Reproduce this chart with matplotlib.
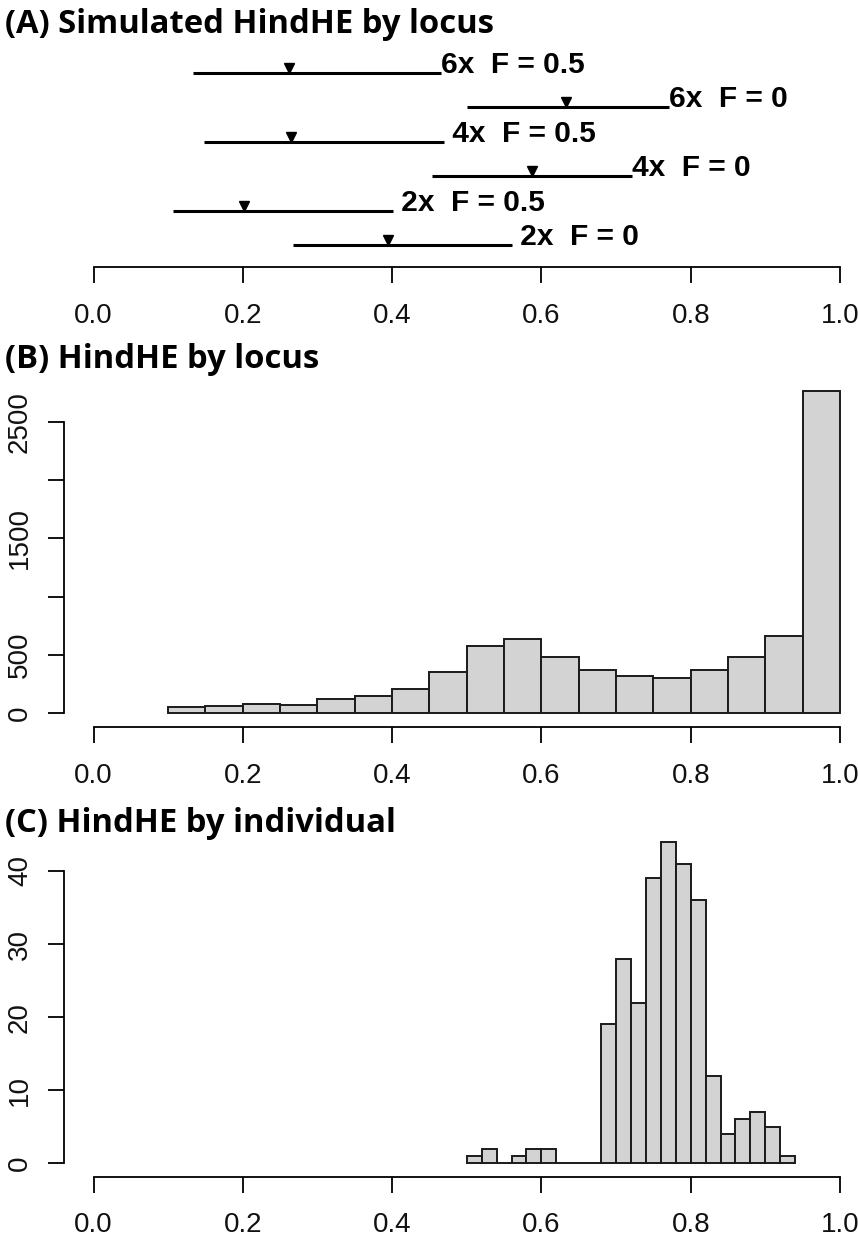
import numpy as np
import matplotlib
matplotlib.use("Agg")
import matplotlib.pyplot as plt
import matplotlib.transforms as mtransforms

# ---------------- data ----------------
# Panel A: simulated HindHE ranges by locus
sim_labels = ["6x  F = 0.5", "6x  F = 0", " 4x  F = 0.5", "4x  F = 0", " 2x  F = 0.5", " 2x  F = 0"]
sim_rows = [6, 5, 4, 3, 2, 1]
sim_low = [0.133, 0.501, 0.148, 0.453, 0.106, 0.267]
sim_high = [0.466, 0.771, 0.469, 0.722, 0.401, 0.560]
sim_mid = [0.262, 0.633, 0.265, 0.587, 0.202, 0.395]

# Panel B: HindHE by locus histogram
locus_edges = [0.10, 0.15, 0.20, 0.25, 0.30, 0.35, 0.40, 0.45, 0.50, 0.55,
               0.60, 0.65, 0.70, 0.75, 0.80, 0.85, 0.90, 0.95, 1.00]
locus_counts = [50, 66, 80, 69, 123, 149, 206, 354, 580, 640,
                483, 369, 317, 306, 369, 483, 663, 2763]

# Panel C: HindHE by individual histogram
ind_edges = [0.50, 0.52, 0.54, 0.56, 0.58, 0.60, 0.62, 0.64, 0.66, 0.68, 0.70, 0.72,
             0.74, 0.76, 0.78, 0.80, 0.82, 0.84, 0.86, 0.88, 0.90, 0.92, 0.94]
ind_counts = [1, 2, 0, 1, 2, 2, 0, 0, 0, 19, 28, 22, 39, 44, 41, 36, 12, 4, 6, 7, 5, 1]

x_ticks = [0.0, 0.2, 0.4, 0.6, 0.8, 1.0]
x_ticklabels = ["0.0", "0.2", "0.4", "0.6", "0.8", "1.0"]
locus_yticks = [0, 500, 1000, 1500, 2000, 2500]
locus_yticklabels = ["0", "500", "", "1500", "", "2500"]
ind_yticks = [0, 10, 20, 30, 40]
ind_yticklabels = ["0", "10", "20", "30", "40"]

titles = ["(A) Simulated HindHE by locus", "(B) HindHE by locus", "(C) HindHE by individual"]

# ---------------- layout ----------------
W, H = 858, 1245
DPI = 100
fig = plt.figure(figsize=(W / DPI, H / DPI), dpi=DPI)

TICK_FONT = ["Liberation Sans", "DejaVu Sans"]
TITLE_FONT = ["Open Sans", "DejaVu Sans"]
LABEL_FONT = ["Liberation Sans", "DejaVu Sans"]
TICK_SIZE = 20

def px_axes(left, top, right, bottom):
    return fig.add_axes([left / W, 1 - bottom / H, (right - left) / W, (bottom - top) / H])

X0, X1 = 93.5, 840.0
px2pt = 72.0 / DPI

def style_xaxis(ax, outward_px):
    ax.spines["bottom"].set_position(("outward", outward_px * px2pt))
    ax.spines["bottom"].set_bounds(0, 1)
    ax.spines["bottom"].set_linewidth(1.3)
    ax.set_xticks(x_ticks)
    ax.set_xticklabels(x_ticklabels, fontfamily=TICK_FONT, fontsize=TICK_SIZE, color="#111111")
    ax.tick_params(axis="x", direction="out", length=16 * px2pt, width=1.3, pad=14)
    ax.set_xlim(0, 1)

def style_yaxis(ax, ticks, labels, top_val):
    ax.spines["left"].set_position(("outward", (X0 - 64.3) * px2pt))
    ax.spines["left"].set_bounds(0, top_val)
    ax.spines["left"].set_linewidth(1.3)
    ax.set_yticks(ticks)
    ax.set_yticklabels(labels, fontfamily=TICK_FONT, fontsize=TICK_SIZE, color="#111111")
    ax.tick_params(axis="y", direction="out", length=16 * px2pt, width=1.3, pad=11)
    for lab in ax.get_yticklabels():
        lab.set_rotation(90)
        lab.set_va("center")
        lab.set_ha("right")

# ---- Panel A ----
row_px_bottom, row_px_top = 245.0, 73.0     # pixel rows of positions 1 and 6
axA_top, axA_bottom = 50.0, 267.3
per_row = (row_px_bottom - row_px_top) / 5.0
axA = px_axes(X0, axA_top, X1, axA_bottom)
axA.set_ylim(1 - (axA_bottom - row_px_bottom) / per_row, 6 + (row_px_top - axA_top) / per_row)
for s in ["top", "right", "left"]:
    axA.spines[s].set_visible(False)
axA.set_yticks([])
style_xaxis(axA, 0)
axA.patch.set_visible(False)
axA.hlines(sim_rows, sim_low, sim_high, color="black", linewidth=2.2)
mk_trans = mtransforms.offset_copy(axA.transData, fig=fig, x=0, y=5, units="dots")
axA.plot(sim_mid, sim_rows, linestyle="none", marker="v", markersize=6.5,
         color="black", transform=mk_trans, clip_on=False)
for lab, row, hi in zip(sim_labels, sim_rows, sim_high):
    axA.text(hi, row, lab, ha="left", va="baseline", fontsize=21.5, fontweight="bold",
             fontfamily=LABEL_FONT, color="black", clip_on=False)

# ---- Panel B ----
b_zero, b_2500 = 713.3, 421.7
b_per = (b_zero - b_2500) / 2500.0
axB_top = 385.0
axB = px_axes(X0, axB_top, X1, b_zero)
axB.set_ylim(0, (b_zero - axB_top) / b_per)
for s in ["top", "right"]:
    axB.spines[s].set_visible(False)
axB.patch.set_visible(False)
style_xaxis(axB, 727.3 - b_zero)
style_yaxis(axB, locus_yticks, locus_yticklabels, 2500)
lw_e = np.array(locus_edges)
axB.bar(lw_e[:-1], locus_counts, width=np.diff(lw_e), align="edge",
        facecolor="#D3D3D3", edgecolor="#1a1a1a", linewidth=1.4, clip_on=False)

# ---- Panel C ----
c_zero, c_40 = 1163.3, 871.0
c_per = (c_zero - c_40) / 40.0
axC_top = 835.0
axC = px_axes(X0, axC_top, X1, c_zero)
axC.set_ylim(0, (c_zero - axC_top) / c_per)
for s in ["top", "right"]:
    axC.spines[s].set_visible(False)
axC.patch.set_visible(False)
style_xaxis(axC, 1176.7 - c_zero)
style_yaxis(axC, ind_yticks, ind_yticklabels, 40)
ie = np.array(ind_edges)
axC.bar(ie[:-1], ind_counts, width=np.diff(ie), align="edge",
        facecolor="#D3D3D3", edgecolor="#1a1a1a", linewidth=1.4, clip_on=False)

# ---- titles ----
title_baselines = [33.3, 368.3, 831.7]
for t, yb in zip(titles, title_baselines):
    fig.text(5 / W, 1 - yb / H, t, ha="left", va="baseline", fontsize=23.6,
             fontweight="bold", fontfamily=TITLE_FONT, color="black")

fig.savefig("out.png", dpi=DPI)
